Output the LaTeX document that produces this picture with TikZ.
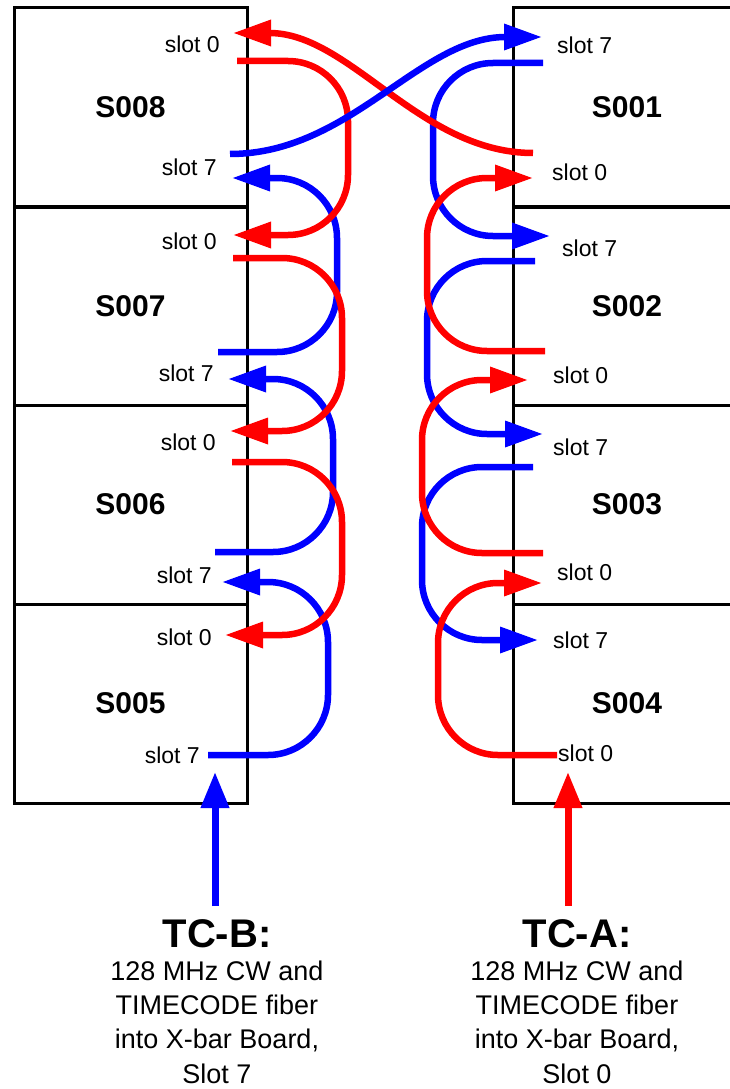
\documentclass[tikz,border=0pt]{standalone}
\usepackage{fontspec}
\setmainfont{Liberation Sans}
\usetikzlibrary{arrows.meta}
\definecolor{wred}{RGB}{255,0,0}
\definecolor{wblue}{RGB}{0,0,255}
\begin{document}
\begin{tikzpicture}[x=1pt,y=-1pt,
  rack/.style={draw=black, line width=3pt, inner sep=0pt, font=\fontsize{30}{34}\selectfont\bfseries},
  rackL/.style={rack, minimum width=233pt, minimum height=199pt},
  rackR/.style={rack, minimum width=228pt, minimum height=199pt},
  slotL/.style={anchor=east, inner sep=0pt, font=\fontsize{23}{26}\selectfont},
  slotR/.style={anchor=west, inner sep=0pt, font=\fontsize{23}{26}\selectfont},
  wire/.style={line width=6.5pt, rounded corners=60pt, -{Triangle[length=38pt,width=25pt]}},
  redw/.style={wire, draw=wred},
  bluew/.style={wire, draw=wblue},
  cross/.style={line width=6.5pt, -{Triangle[length=38pt,width=25pt]}},
  feed/.style={line width=7pt, -{Triangle[length=36pt,width=27pt]}},
  tctitle/.style={anchor=base, inner sep=0pt, font=\fontsize{40}{44}\selectfont\bfseries},
  tcdesc/.style={anchor=base, inner sep=0pt, align=center, font=\fontsize{27}{34.3}\selectfont},
]
\useasboundingbox (0,0) rectangle (729,1089);

% racks
\node[rackL] (S008) at (130.5,107.5) {S008};
\node[rackL] (S007) at (130.5,306) {S007};
\node[rackL] (S006) at (130.5,504.5) {S006};
\node[rackL] (S005) at (130.5,703.5) {S005};
\node[rackR] (S001) at (627,107.5) {S001};
\node[rackR] (S002) at (627,306) {S002};
\node[rackR] (S003) at (627,504.5) {S003};
\node[rackR] (S004) at (627,703.5) {S004};

% slot labels left
\node[slotL] (l8a) at (220,44) {slot 0};
\node[slotL] (l8b) at (217,167) {slot 7};
\node[slotL] (l7a) at (217,241) {slot 0};
\node[slotL] (l7b) at (214,373) {slot 7};
\node[slotL] (l6a) at (216,442) {slot 0};
\node[slotL] (l6b) at (212,575) {slot 7};
\node[slotL] (l5a) at (212,637) {slot 0};
\node[slotL] (l5b) at (200,755) {slot 7};
% slot labels right
\node[slotR] (r1b) at (557,45) {slot 7};
\node[slotR] (r1a) at (552,172) {slot 0};
\node[slotR] (r2b) at (562,248) {slot 7};
\node[slotR] (r2a) at (553,375) {slot 0};
\node[slotR] (r3b) at (553,447) {slot 7};
\node[slotR] (r3a) at (557,572) {slot 0};
\node[slotR] (r4b) at (553,640) {slot 7};
\node[slotR] (r4a) at (558,753) {slot 0};

% ports (t = arrow tip in, s = fibre out)
\coordinate (L8o0t) at (233,33);
\coordinate (L8o0s) at (237,61);
\coordinate (L8o7t) at (232,178);
\coordinate (L8o7s) at (230,154);
\coordinate (L7o0t) at (233,235);
\coordinate (L7o0s) at (233,258);
\coordinate (L7o7t) at (228,379);
\coordinate (L7o7s) at (218,352);
\coordinate (L6o0t) at (230,431);
\coordinate (L6o0s) at (232,462);
\coordinate (L6o7t) at (222,582);
\coordinate (L6o7s) at (215,552);
\coordinate (L5o0t) at (225,635);
\coordinate (L5o7s) at (208,755);
\coordinate (R1o7t) at (542,37);
\coordinate (R1o7s) at (543,63);
\coordinate (R1o0t) at (533,178);
\coordinate (R1o0s) at (533,153);
\coordinate (R2o7t) at (550,236);
\coordinate (R2o7s) at (535,261);
\coordinate (R2o0t) at (528,380);
\coordinate (R2o0s) at (545,351);
\coordinate (R3o7t) at (543,434);
\coordinate (R3o7s) at (533,467);
\coordinate (R3o0t) at (542,583);
\coordinate (R3o0s) at (543,553);
\coordinate (R4o7t) at (538,640);
\coordinate (R4o0s) at (557,755);

% loop columns
\coordinate (cB56) at (328,0);
\coordinate (cB67) at (333,0);
\coordinate (cB78) at (337,0);
\coordinate (cR87) at (348,0);
\coordinate (cR76) at (342,0);
\coordinate (cR65) at (342,0);
\coordinate (cB12) at (433,0);
\coordinate (cB23) at (427,0);
\coordinate (cB34) at (422,0);
\coordinate (cR43) at (438,0);
\coordinate (cR32) at (422,0);
\coordinate (cR21) at (427,0);

% blue chain (TC-B)
\draw[bluew] (L5o7s) -| (cB56 |- L6o7t) -- (L6o7t);
\draw[bluew] (L6o7s) -| (cB67 |- L7o7t) -- (L7o7t);
\draw[bluew] (L7o7s) -| (cB78 |- L8o7t) -- (L8o7t);
\draw[bluew] (R1o7s) -| (cB12 |- R2o7t) -- (R2o7t);
\draw[bluew] (R2o7s) -| (cB23 |- R3o7t) -- (R3o7t);
\draw[bluew] (R3o7s) -| (cB34 |- R4o7t) -- (R4o7t);
% red chain (TC-A)
\draw[redw] (R4o0s) -| (cR43 |- R3o0t) -- (R3o0t);
\draw[redw] (R3o0s) -| (cR32 |- R2o0t) -- (R2o0t);
\draw[redw] (R2o0s) -| (cR21 |- R1o0t) -- (R1o0t);
\draw[redw] (L8o0s) -| (cR87 |- L7o0t) -- (L7o0t);
\draw[redw] (L7o0s) -| (cR76 |- L6o0t) -- (L6o0t);
\draw[redw] (L6o0s) -| (cR65 |- L5o0t) -- (L5o0t);
% crossing fibres
\draw[cross, draw=wred] (R1o0s) .. controls (420,153) and (350,33) .. (L8o0t);
\draw[cross, draw=wblue] (L8o7s) .. controls (350,154) and (420,37) .. (R1o7t);

% timing inputs
\node[tctitle] (TCB) at (217,947) {TC-B:};
\node[tcdesc] (TCBd) at (217,1083) {128 MHz CW and\\TIMECODE fiber\\into X-bar Board,\\Slot 7};
\node[tctitle] (TCA) at (577,947) {TC-A:};
\node[tcdesc] (TCAd) at (577,1083) {128 MHz CW and\\TIMECODE fiber\\into X-bar Board,\\Slot 0};
\coordinate (inB) at (215,906);
\coordinate (inBt) at (215,772);
\coordinate (inA) at (568,906);
\coordinate (inAt) at (568,772);
\draw[feed, draw=wblue] (inB) -- (inBt);
\draw[feed, draw=wred] (inA) -- (inAt);
\end{tikzpicture}
\end{document}
